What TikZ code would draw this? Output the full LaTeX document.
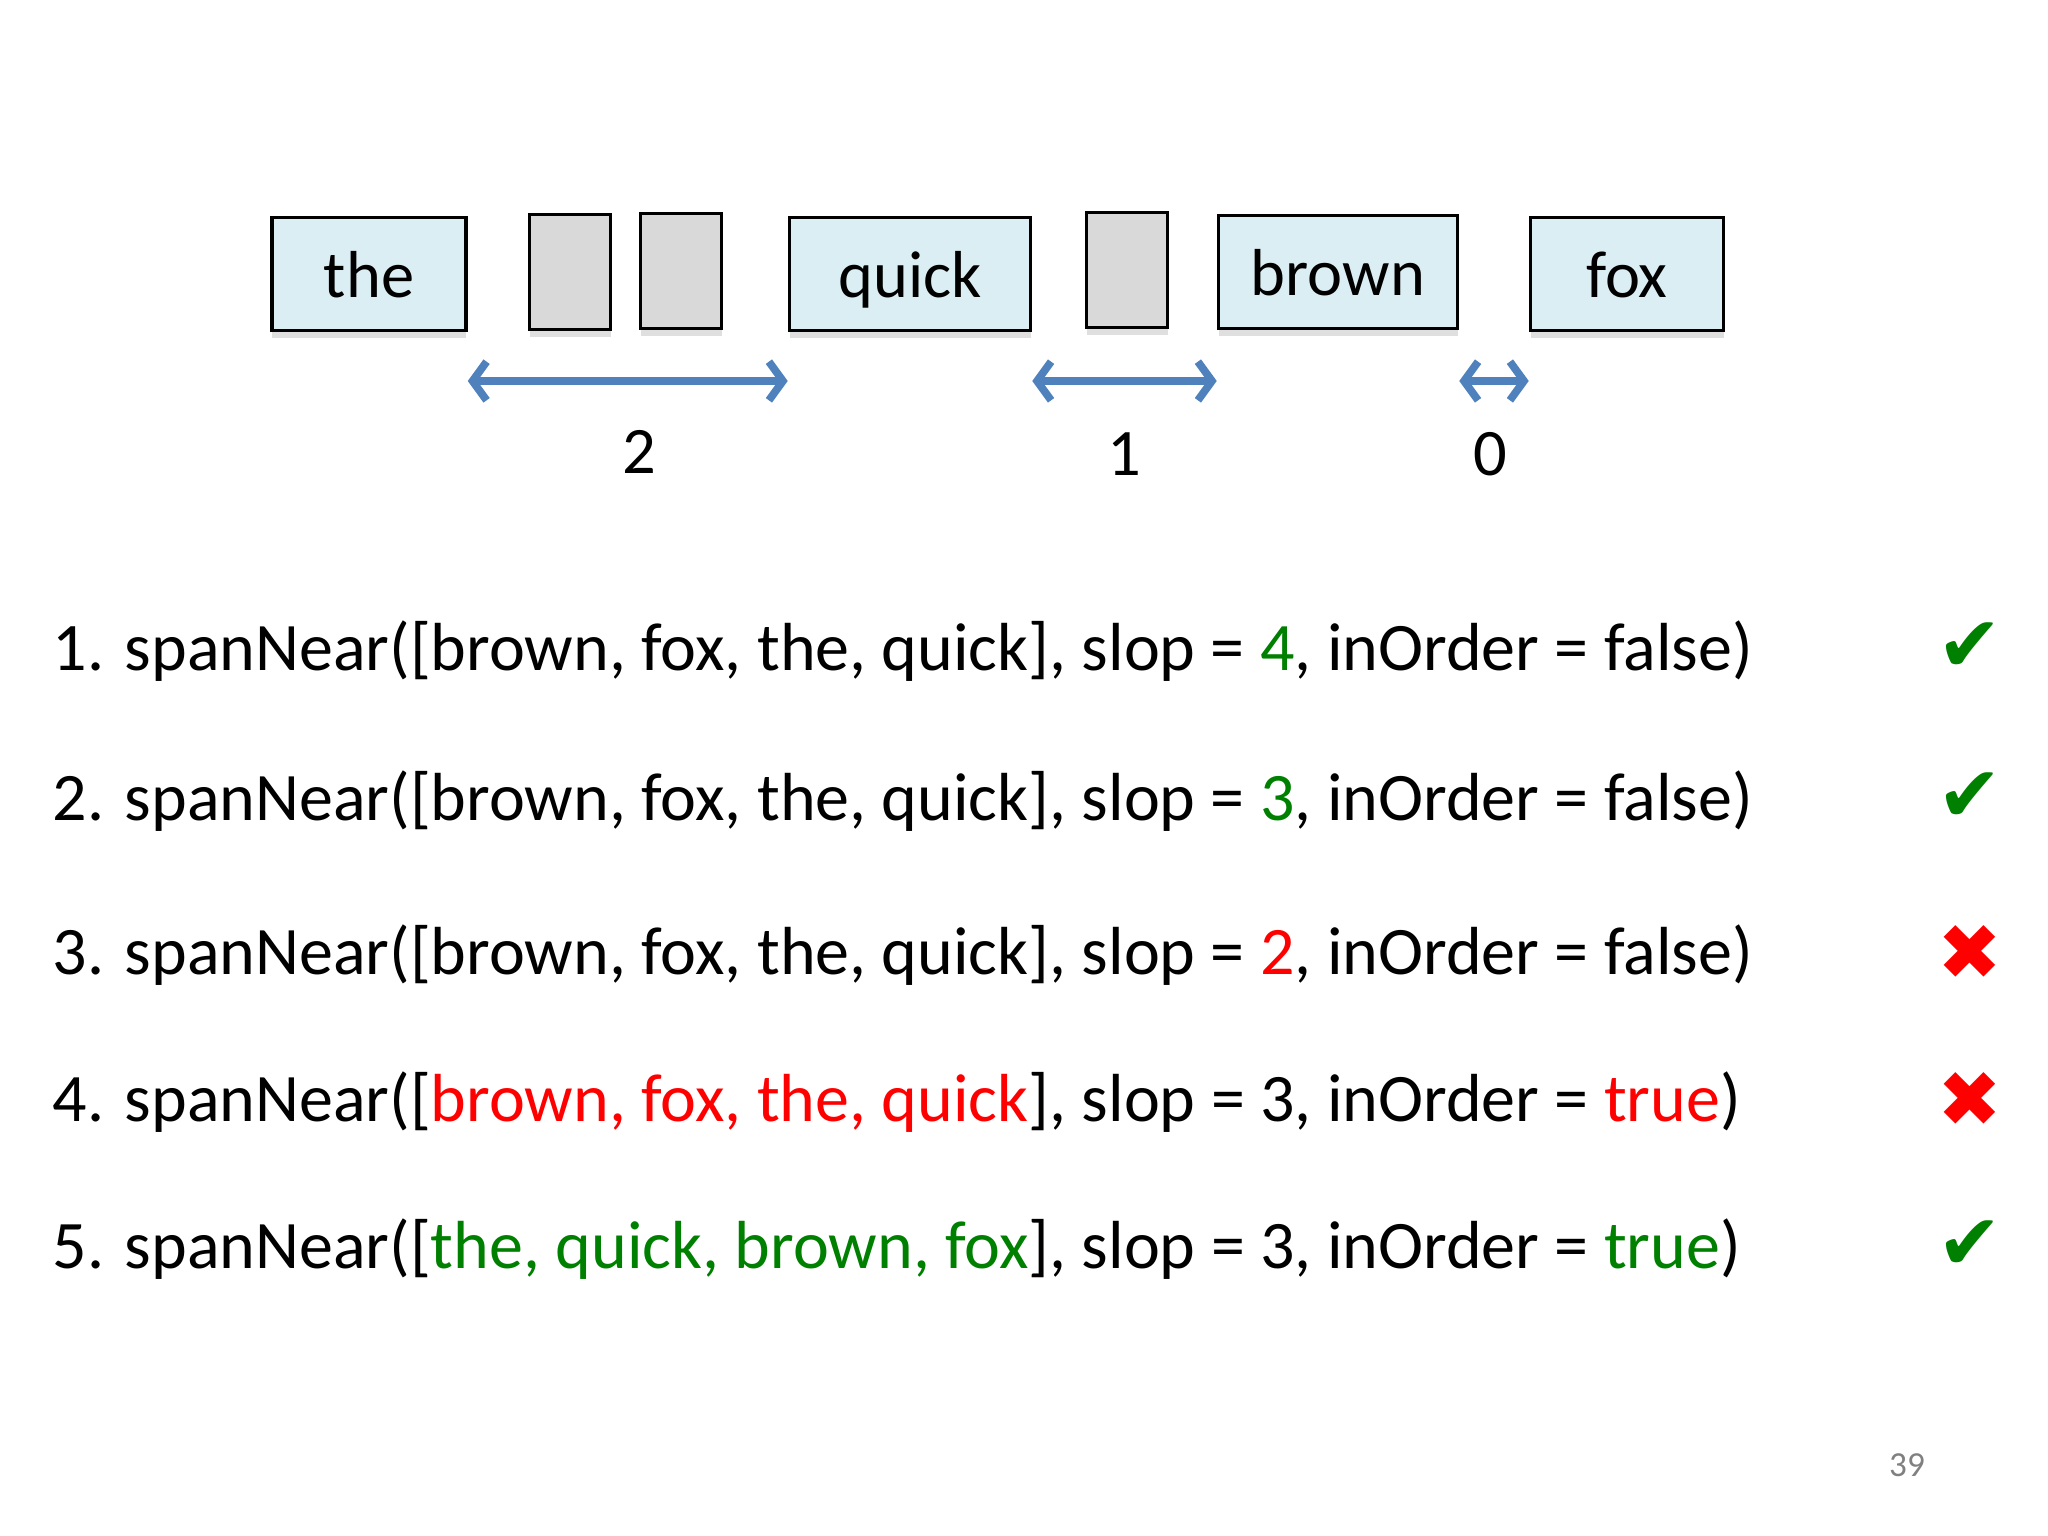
\documentclass[tikz,border=0pt]{standalone}
\usepackage{fontspec}
\setmainfont{Carlito}
\newfontfamily\symfont{DejaVu Sans}
\usepackage{tikz}
\usetikzlibrary{arrows.meta,shadows}
\definecolor{okgreen}{RGB}{0,128,0}
\definecolor{badred}{RGB}{255,0,0}
\definecolor{wordfill}{RGB}{219,238,243}
\definecolor{gapfill}{RGB}{217,217,217}
\definecolor{gaparrow}{RGB}{79,129,189}
\tikzset{
  word/.style={draw=black,line width=1pt,fill=wordfill,minimum height=1.13cm,inner sep=0pt,
    text height=13.6pt,text depth=0pt,
    drop shadow={shadow xshift=0pt,shadow yshift=-2pt,opacity=0.25}},
  hole/.style={draw=black,line width=1pt,fill=gapfill,minimum width=0.81cm,minimum height=1.15cm,inner sep=0pt,
    drop shadow={shadow xshift=0pt,shadow yshift=-2pt,opacity=0.25}},
  gap/.style={draw=gaparrow,line width=2.2pt,{Straight Barb[length=4pt,width=11pt]}-{Straight Barb[length=4pt,width=11pt]}},
  query/.style={anchor=base west,inner sep=0pt,font=\fontsize{19.35}{22}\selectfont},
  verdict/.style={inner sep=0pt,font=\symfont\fontsize{22}{22}\selectfont}
}
\newcommand{\ok}[1]{\textcolor{okgreen}{#1}}
\newcommand{\bad}[1]{\textcolor{badred}{#1}}
\begin{document}
\begin{tikzpicture}[font=\fontsize{18.9}{22}\selectfont]
\useasboundingbox (0,0) rectangle (20.48,-15.36);
% the words with the holes between them
\node[word,minimum width=1.94cm] (the) at (3.69,-2.74) {the};
\node[hole] (hole1) at (5.70,-2.72) {};
\node[hole] (hole2) at (6.81,-2.71) {};
\node[word,minimum width=2.41cm] (quick) at (9.10,-2.74) {quick};
\node[hole] (hole3) at (11.27,-2.70) {};
\node[word,minimum width=2.39cm] (brown) at (13.38,-2.72) {brown};
\node[word,minimum width=1.93cm] (fox) at (16.27,-2.74) {fox};
% distances
\draw[gap] (the.east |- 0,-3.81) -- (quick.west |- 0,-3.81) node[midway,xshift=0.12cm,yshift=-0.71cm,text=black] {2};
\draw[gap] (quick.east |- 0,-3.81) -- (brown.west |- 0,-3.81) node[midway,yshift=-0.73cm,text=black] {1};
\draw[gap] (brown.east |- 0,-3.81) -- (fox.west |- 0,-3.81) node[midway,xshift=-0.04cm,yshift=-0.73cm,text=black] {0};
% queries
\node[query] (q1) at (0.52,-6.70) {1. spanNear([brown, fox, the, quick], slop = \ok{4}, inOrder = false)};
\node[query] (q2) at (0.52,-8.20) {2. spanNear([brown, fox, the, quick], slop = \ok{3}, inOrder = false)};
\node[query] (q3) at (0.52,-9.74) {3. spanNear([brown, fox, the, quick], slop = \bad{2}, inOrder = false)};
\node[query] (q4) at (0.52,-11.21) {4. spanNear([\bad{brown, fox, the, quick}], slop = 3, inOrder = \bad{true})};
\node[query] (q5) at (0.52,-12.68) {5. spanNear([\ok{the, quick, brown, fox}], slop = 3, inOrder = \ok{true})};
% verdicts
\node[verdict,text=okgreen] (v1) at (19.70,-6.47) {✔};
\node[verdict,text=okgreen] (v2) at (19.70,-7.97) {✔};
\node[verdict,text=badred] (v3) at (19.70,-9.53) {✖};
\node[verdict,text=badred] (v4) at (19.70,-11.00) {✖};
\node[verdict,text=okgreen] (v5) at (19.70,-12.45) {✔};
\node[text=gray,font=\fontsize{10}{12}\selectfont] (page) at (19.07,-14.65) {39};
\end{tikzpicture}
\end{document}
